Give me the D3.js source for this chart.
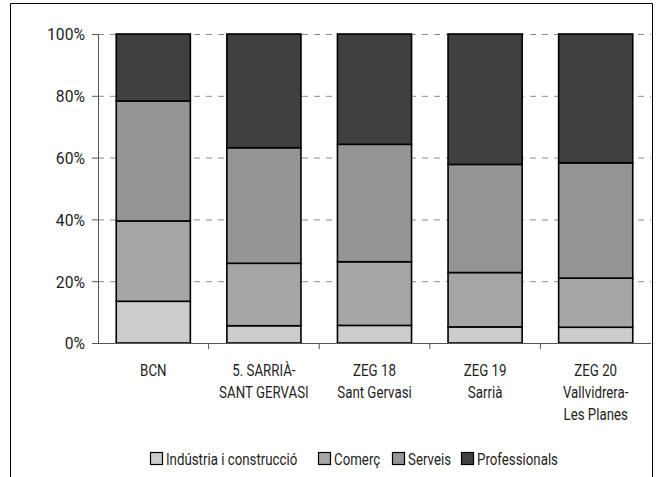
<!DOCTYPE html>
<html><head><meta charset="utf-8">
<script src="https://cdn.jsdelivr.net/npm/d3@7"></script>
<style>body{margin:0;background:#fff}svg{display:block}text{font-family:Roboto,"Open Sans",sans-serif;fill:#1e1e1e}</style>
</head><body>
<svg id="c" width="657" height="477"></svg>
<script>
const categories = [["BCN"],["5. SARRIÀ-","SANT GERVASI"],["ZEG 18","Sant Gervasi"],["ZEG 19","Sarrià"],["ZEG 20","Vallvidrera-","Les Planes"]];
const seriesNames = ["Indústria i construcció","Comerç","Serveis","Professionals"];
const industria = [13.5, 5.6, 5.7, 5.2, 5.1];
const comerc = [26.0, 20.2, 20.6, 17.6, 15.9];
const serveis = [38.8, 37.4, 38.0, 35.0, 37.3];
const professionals = [21.7, 36.8, 35.7, 42.2, 41.7];
const yTicks = [0, 20, 40, 60, 80, 100];
const colors = ["#cccccc","#a6a6a6","#959595","#404040"];

const svg = d3.select("#c");
svg.append("path").attr("d","M10.5,477 V3.5 H652.5 V477").attr("fill","none").attr("stroke","#000").attr("stroke-width",1);

const FS = 17;
// horizontal condensation factors to mimic the narrow original typeface
function measure(s, size){
  const t = svg.append("text").attr("font-size",size).text(s);
  const w = t.node().getComputedTextLength(); t.remove(); return w;
}
const sxText = 81 / measure("Professionals", FS);
const sxAxis = 38 / measure("100%", FS);

const x0 = 98, x1 = 651, yTop = 34, yBot = 343;
const keys = ["i","c","s","p"];
const data = categories.map((c,i)=>({cat:i,i:industria[i],c:comerc[i],s:serveis[i],p:professionals[i]}));
const x = d3.scaleBand().domain(d3.range(categories.length)).range([x0,x1]).paddingInner(0.33).paddingOuter(0.165);
const y = d3.scaleLinear().domain([0,100]).range([yBot,yTop]);

function txt(g, tx, ty, s, anchor, size, sx){
  return g.append("text").attr("transform",`translate(${tx},${ty}) scale(${sx},1)`)
    .attr("text-anchor",anchor).attr("font-size",size).text(s);
}

svg.append("g").selectAll("line").data(yTicks.filter(t=>t>0)).join("line")
  .attr("x1",x0).attr("x2",x1).attr("y1",d=>y(d)+0.5).attr("y2",d=>y(d)+0.5)
  .attr("stroke","#8c8c8c").attr("stroke-dasharray","6,6").attr("stroke-width",1);

const stack = d3.stack().keys(keys)(data);
svg.append("g").selectAll("g").data(stack).join("g").attr("fill",(d,i)=>colors[i])
  .selectAll("rect").data(d=>d).join("rect")
  .attr("x",d=>x(d.data.cat)).attr("width",x.bandwidth())
  .attr("y",d=>y(d[1])).attr("height",d=>y(d[0])-y(d[1]))
  .attr("stroke","#000").attr("stroke-width",1.6);

const ya = svg.append("g").attr("transform",`translate(${x0},0)`)
  .call(d3.axisLeft(y).tickValues(yTicks).tickFormat(d=>d+"%").tickSize(6).tickPadding(6))
  .attr("font-family",null).attr("font-size",null);
ya.select(".domain").attr("stroke","#555");
ya.selectAll(".tick line").attr("stroke","#555");
ya.selectAll("text").attr("font-size",FS).attr("x",-13/sxAxis).attr("dy","0.35em")
  .attr("transform",`scale(${sxAxis},1)`).style("fill","#1e1e1e");

const xa = svg.append("g").attr("transform",`translate(0,${yBot})`);
xa.append("line").attr("x1",x0).attr("x2",x1).attr("y1",0.5).attr("y2",0.5).attr("stroke","#555");
const step = x.step();
d3.range(categories.length-1).forEach(i=>{
  const xb = x0 + step*(i+1);
  xa.append("line").attr("x1",xb).attr("x2",xb).attr("y1",0).attr("y2",6).attr("stroke","#555");
});
const labels = svg.append("g");
categories.forEach((lines,i)=>{
  const cx = x(i)+x.bandwidth()/2;
  lines.forEach((t,j)=>txt(labels, cx, 375.5+j*22.2, t, "middle", FS, sxText));
});

const legX = [150,318,392,461];
const lg = svg.append("g");
seriesNames.forEach((n,i)=>{
  lg.append("rect").attr("x",legX[i]+0.5).attr("y",452.5).attr("width",12).attr("height",12)
    .attr("fill",colors[i]).attr("stroke","#000").attr("stroke-width",1.2);
  txt(lg, legX[i]+16, 464.5, n, "start", FS, sxText);
});
</script>
</body></html>
